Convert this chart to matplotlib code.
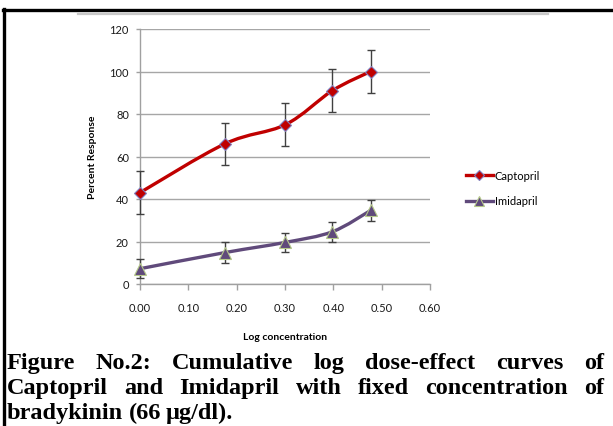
import numpy as np
import matplotlib.pyplot as plt
from matplotlib.path import Path
from matplotlib.patches import PathPatch
from matplotlib.lines import Line2D

# data
log_conc = [0.0, 0.176, 0.301, 0.398, 0.477]
captopril = [43, 66, 75, 91, 100]
captopril_err = [10, 10, 10, 10, 10]
imidapril = [7.2, 14.8, 19.6, 24.6, 34.6]
imidapril_err = [4.5, 4.8, 4.5, 4.6, 4.9]
x_ticks = [0.0, 0.1, 0.2, 0.3, 0.4, 0.5, 0.6]
y_ticks = [0, 20, 40, 60, 80, 100, 120]
series_names = ['Captopril', 'Imidapril']
caption_lines = ['Figure No.2: Cumulative log dose-effect curves of',
                 'Captopril and Imidapril with fixed concentration of',
                 'bradykinin (66 \u00b5g/dl).']

W, H = 613, 427
plt.rcParams['font.family'] = ['Lato', 'DejaVu Sans']

fig = plt.figure(figsize=(W / 100, H / 100), dpi=100)
ax = fig.add_axes([140 / W, 1 - 285 / H, 290 / W, 255 / H])


def smooth_path(xs, ys):
    # excel style smoothed line: bezier segments through the points
    p = np.column_stack([xs, ys]).astype(float)
    verts = [p[0]]
    codes = [Path.MOVETO]
    n = len(p)
    for i in range(n - 1):
        prev = p[i - 1] if i > 0 else p[i]
        nxt = p[i + 2] if i + 2 < n else p[i + 1]
        c1 = p[i] + (p[i + 1] - prev) / 6
        c2 = p[i + 1] - (nxt - p[i]) / 6
        verts += [c1, c2, p[i + 1]]
        codes += [Path.CURVE4] * 3
    return Path(verts, codes)


styles = [
    dict(color='#c00000', marker='D', ms=6, mfc='#c00000', mec='#8080c0'),
    dict(color='#604a7b', marker='^', ms=8, mfc='#604a7b', mec='#b5c98a'),
]
handles = []
for ys, err, st, name in zip([captopril, imidapril], [captopril_err, imidapril_err],
                             styles, series_names):
    ax.add_patch(PathPatch(smooth_path(log_conc, ys), fill=False,
                           edgecolor=st['color'], lw=2.4, zorder=3))
    eb = ax.errorbar(log_conc, ys, yerr=err, fmt='none', ecolor='#404040',
                     elinewidth=1, capsize=3, capthick=1, zorder=4)
    for art in eb.lines[1] + eb.lines[2]:
        art.set_clip_on(False)
    ax.plot(log_conc, ys, ls='none', marker=st['marker'], ms=st['ms'],
            mfc=st['mfc'], mec=st['mec'], mew=0.8, zorder=5, clip_on=False)
    handles.append(Line2D([], [], color=st['color'], lw=2.4, marker=st['marker'],
                          ms=st['ms'] - 1, mfc=st['mfc'], mec=st['mec'], mew=0.8))

ax.set_xlim(0, 0.6)
ax.set_ylim(0, 120)
ax.set_xticks(x_ticks)
ax.set_xticklabels([f'{t:.2f}' for t in x_ticks])
ax.set_yticks(y_ticks)
ax.yaxis.grid(True, color='#a6a6a6', lw=1)
ax.set_axisbelow(True)
for s in ['top', 'right']:
    ax.spines[s].set_visible(False)
for s in ['left', 'bottom']:
    ax.spines[s].set_color('#a0a0a0')
    ax.spines[s].set_linewidth(1)
ax.tick_params(axis='x', direction='out', length=4, width=1, color='#a0a0a0',
               pad=9, labelsize=8, labelcolor='#1a1a1a')
ax.tick_params(axis='y', direction='out', length=3, width=1, color='#a0a0a0',
               pad=5, labelsize=8, labelcolor='#1a1a1a')
ax.set_xlabel('Log concentration', fontsize=7.5, fontweight='bold', labelpad=14)
ax.set_ylabel('Percent Response', fontsize=7.5, fontweight='bold', labelpad=9)

fig.legend(handles, series_names, loc='upper left',
           bbox_to_anchor=(456 / W, 1 - 161 / H), frameon=False, fontsize=8,
           handlelength=2.4, handletextpad=0.2, labelspacing=1.3)

# frame lines of the page
fig.add_artist(Line2D([3 / W, 1], [1 - 11 / H] * 2, color='black', lw=2.4,
                      transform=fig.transFigure))
fig.add_artist(Line2D([4 / W] * 2, [1 - 10 / H, 0], color='black', lw=2.4,
                      transform=fig.transFigure))
fig.add_artist(Line2D([78 / W, 548 / W], [1 - 15 / H] * 2, color='#c8c8c8', lw=1.6,
                      transform=fig.transFigure))

# justified caption
renderer = fig.canvas.get_renderer()
left, right = 7, 604
baselines = [369, 394, 419]
cap_font = dict(family='Liberation Serif', fontweight='bold', fontsize=17.5,
                va='baseline', ha='left', color='black')
for k, (line, yb) in enumerate(zip(caption_lines, baselines)):
    words = line.split(' ')
    texts = [fig.text(0, 1 - yb / H, w, **cap_font) for w in words]
    widths = [t.get_window_extent(renderer).width for t in texts]
    if k < len(caption_lines) - 1:
        gap = (right - left - sum(widths)) / (len(words) - 1)
    else:
        gap = texts[0].get_window_extent(renderer).height * 0.25
    x = left
    for t, w in zip(texts, widths):
        t.set_x(x / W)
        x += w + gap

fig.savefig('out.png', dpi=100)
